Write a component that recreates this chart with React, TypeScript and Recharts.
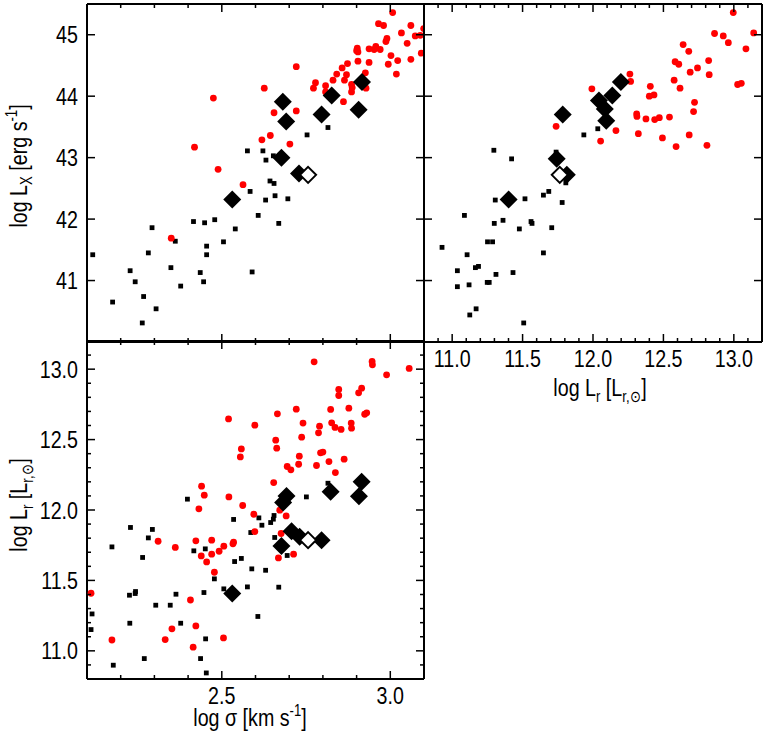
import React from "react";
import { ScatterChart, Scatter, XAxis, YAxis } from "recharts";

const FONT = "'Liberation Sans', Arial, sans-serif";
const NARROW = 0.82; // squeeze the sans face to a condensed look
const RED = "#ff0000";

// axis ticks
const sigmaTicks = [2.1, 2.2, 2.3, 2.4, 2.5, 2.6, 2.7, 2.8, 2.9, 3.0, 3.1];
const sigmaMajor = [2.5, 3.0];
const lxTicks = [41, 42, 43, 44, 45];
const lrTicks = [
  10.8, 10.9, 11.0, 11.1, 11.2, 11.3, 11.4, 11.5, 11.6, 11.7, 11.8, 11.9, 12.0,
  12.1, 12.2, 12.3, 12.4, 12.5, 12.6, 12.7, 12.8, 12.9, 13.0, 13.1, 13.2,
];
const lrMajor = [11.0, 11.5, 12.0, 12.5, 13.0];

// log sigma vs log L_X
const sigLxSquares = [
  [2.117, 41.42], [2.176, 40.65], [2.228, 41.16], [2.243, 40.98], [2.268, 40.74], [2.264, 40.31],
  [2.282, 41.45], [2.293, 41.86], [2.305, 40.54], [2.349, 41.21], [2.362, 41.64], [2.378, 40.91],
  [2.416, 41.96], [2.436, 41.13], [2.446, 40.98], [2.449, 41.94], [2.455, 41.56], [2.455, 41.42],
  [2.479, 41.99], [2.505, 41.63], [2.54, 41.84], [2.576, 43.11], [2.584, 42.45], [2.59, 41.14],
  [2.608, 42.06], [2.622, 43.11], [2.631, 42.96], [2.63, 42.31], [2.643, 42.62], [2.655, 42.58],
  [2.658, 42.38], [2.653, 43.03], [2.669, 41.93], [2.696, 42.33], [2.753, 43.37], [2.815, 43.49],
];
const sigLxCircles = [
  [2.35, 41.69], [2.419, 43.17], [2.475, 43.97], [2.489, 42.81], [2.563, 42.56], [2.619, 43.29],
  [2.626, 44.13], [2.644, 43.36], [2.655, 43.73], [2.702, 43.22], [2.721, 44.48], [2.721, 43.76],
  [2.772, 44.13], [2.778, 44.22], [2.808, 44.17], [2.808, 44.07], [2.83, 44.26], [2.841, 44.36],
  [2.857, 44.46], [2.864, 44.26], [2.87, 44.35], [2.873, 44.53], [2.861, 43.91], [2.885, 44.19],
  [2.885, 44.07], [2.887, 44.14], [2.9, 44.74], [2.902, 44.78], [2.904, 44.57], [2.904, 44.72],
  [2.926, 44.38], [2.928, 44.13], [2.937, 44.55], [2.937, 44.77], [2.952, 44.76], [2.957, 44.81],
  [2.97, 44.76], [2.965, 45.18], [2.98, 45.15], [2.987, 44.89], [2.99, 44.94], [2.994, 44.52],
  [3.002, 44.66], [3.007, 45.36], [3.018, 44.36], [3.022, 44.58], [3.033, 45.03], [3.05, 44.86],
  [3.061, 45.15], [3.061, 44.6], [3.074, 44.98], [3.089, 44.99], [3.092, 44.7], [3.099, 45.1],
];
const sigLxDiamonds = [
  [2.531, 42.32], [2.681, 43.91], [2.691, 43.59], [2.677, 43.0], [2.729, 42.74],
  [2.796, 43.7], [2.826, 44.01], [2.906, 43.78], [2.916, 44.23],
];
const sigLxOpen = [[2.756, 42.72]];

// log L_r vs log L_X
const lrLxSquares = [
  [10.928, 41.54], [11.037, 41.16], [11.037, 40.9], [11.087, 42.06], [11.106, 41.42], [11.12, 40.93],
  [11.125, 40.44], [11.165, 41.21], [11.187, 41.23], [11.17, 40.54], [11.251, 41.63], [11.287, 41.63],
  [11.249, 40.97], [11.263, 40.97], [11.299, 41.93], [11.306, 42.31], [11.296, 43.12], [11.311, 41.1],
  [11.361, 41.98], [11.422, 42.98], [11.432, 41.13], [11.477, 41.84], [11.508, 40.31], [11.517, 42.33],
  [11.56, 41.96], [11.567, 41.93], [11.648, 41.45], [11.648, 42.39], [11.686, 42.45], [11.707, 41.86],
  [11.781, 42.27], [11.807, 42.59], [11.738, 43.09], [11.935, 43.37], [12.034, 43.47],
];
const lrLxCircles = [
  [11.738, 43.51], [11.992, 44.12], [12.054, 43.27], [12.163, 43.44], [12.262, 44.36], [12.267, 44.24],
  [12.31, 43.71], [12.312, 43.67], [12.322, 43.39], [12.376, 43.63], [12.407, 44.16], [12.4, 44.0],
  [12.433, 44.02], [12.438, 43.62], [12.471, 43.65], [12.493, 43.32], [12.543, 43.66], [12.576, 44.26],
  [12.59, 43.18], [12.583, 44.56], [12.609, 44.52], [12.618, 44.13], [12.64, 44.84], [12.68, 44.73],
  [12.683, 43.37], [12.69, 44.39], [12.714, 43.75], [12.721, 43.9], [12.742, 44.46], [12.809, 43.2],
  [12.821, 44.58], [12.825, 44.35], [12.863, 45.02], [12.925, 44.98], [12.961, 44.87], [12.996, 45.36],
  [13.027, 44.19], [13.053, 44.21], [13.086, 44.77], [13.141, 45.03],
];
const lrLxDiamonds = [
  [11.401, 42.32], [11.785, 43.7], [11.742, 42.98], [11.814, 42.72], [12.042, 43.93],
  [12.084, 43.79], [12.094, 43.6], [12.137, 44.01], [12.198, 44.23],
];
const lrLxOpen = [[11.764, 42.72]];

// log sigma vs log L_r
const sigLrSquares = [
  [2.115, 11.262], [2.112, 11.151], [2.174, 11.738], [2.178, 10.898], [2.226, 11.395], [2.227, 11.196],
  [2.229, 11.876], [2.243, 11.407], [2.244, 11.421], [2.265, 11.663], [2.27, 10.945], [2.282, 11.802],
  [2.294, 11.862], [2.304, 11.324], [2.347, 11.324], [2.364, 11.402], [2.378, 11.196], [2.398, 12.077],
  [2.417, 11.71], [2.451, 11.724], [2.437, 10.945], [2.447, 11.414], [2.452, 11.085], [2.454, 10.843],
  [2.478, 11.511], [2.506, 11.44], [2.535, 11.933], [2.538, 11.634], [2.558, 11.656], [2.576, 11.454],
  [2.586, 11.84], [2.589, 11.582], [2.607, 11.244], [2.61, 11.944], [2.619, 11.892], [2.645, 11.911],
  [2.653, 11.935], [2.655, 11.961], [2.657, 11.805], [2.63, 11.572], [2.669, 11.452], [2.694, 11.677],
  [2.751, 12.093], [2.815, 12.19],
];
const sigLrCircles = [
  [2.112, 11.409], [2.174, 11.077], [2.311, 11.778], [2.332, 11.08], [2.352, 11.156], [2.362, 11.734],
  [2.407, 11.361], [2.415, 11.026], [2.423, 11.177], [2.423, 11.781], [2.432, 12.008], [2.439, 11.674],
  [2.44, 12.169], [2.448, 12.105], [2.455, 11.631], [2.47, 11.786], [2.47, 11.686], [2.478, 11.558],
  [2.492, 11.707], [2.505, 11.092], [2.506, 11.743], [2.52, 12.647], [2.521, 12.093], [2.533, 11.76],
  [2.535, 11.771], [2.555, 12.377], [2.558, 12.434], [2.562, 12.032], [2.595, 11.97], [2.598, 12.602],
  [2.598, 11.847], [2.654, 12.195], [2.66, 12.496], [2.663, 12.439], [2.665, 12.683], [2.672, 11.999],
  [2.676, 11.833], [2.668, 11.66], [2.691, 11.958], [2.694, 12.309], [2.705, 12.285], [2.713, 11.686],
  [2.721, 12.716], [2.728, 12.325], [2.73, 12.382], [2.737, 12.517], [2.741, 12.617], [2.774, 13.052],
  [2.781, 12.316], [2.787, 12.548], [2.79, 12.595], [2.793, 12.406], [2.8, 12.411], [2.818, 12.344],
  [2.823, 12.714], [2.826, 12.619], [2.836, 12.586], [2.837, 12.266], [2.847, 12.856], [2.847, 12.813],
  [2.854, 12.572], [2.863, 12.361], [2.877, 12.723], [2.884, 12.617], [2.885, 12.581], [2.906, 12.832],
  [2.915, 12.865], [2.924, 12.68], [2.93, 12.69], [2.946, 13.055], [2.947, 13.031], [2.989, 12.96],
  [3.056, 13.005],
];
const sigLrDiamonds = [
  [2.531, 11.407], [2.692, 12.1], [2.682, 12.053], [2.677, 11.745], [2.707, 11.85],
  [2.731, 11.81], [2.796, 11.786], [2.823, 12.129], [2.907, 12.098], [2.915, 12.2],
];
const sigLrOpen = [[2.756, 11.786]];

type Pt = { x: number; y: number };
const pts = (a: number[][]): Pt[] => a.map(([x, y]) => ({ x, y }));

const Square = (p: any) => <rect x={p.cx - 2.4} y={p.cy - 2.4} width={4.8} height={4.8} fill="#000" />;
const Dot = (p: any) => <circle cx={p.cx} cy={p.cy} r={3.4} fill={RED} />;
const Diamond = (p: any) => (
  <polygon points={`${p.cx},${p.cy - 9} ${p.cx + 9},${p.cy} ${p.cx},${p.cy + 9} ${p.cx - 9},${p.cy}`} fill="#000" />
);
const OpenDiamond = (p: any) => (
  <polygon
    points={`${p.cx},${p.cy - 8} ${p.cx + 8},${p.cy} ${p.cx},${p.cy + 8} ${p.cx - 8},${p.cy}`}
    fill="#fff"
    stroke="#000"
    strokeWidth={2}
  />
);

// condensed text: the glyphs are squeezed along the reading direction
const NText = ({ x, y, rotate = 0, anchor = "middle", size = 24, children }: any) => (
  <text
    transform={`translate(${x},${y}) rotate(${rotate}) scale(${NARROW},1)`}
    textAnchor={anchor}
    fontSize={size}
    fontFamily={FONT}
    fill="#000"
  >
    {children}
  </text>
);

type Side = "top" | "bottom" | "left" | "right";

const makeTick = (side: Side, majors: number[], labelled: boolean, digits: number) => (props: any) => {
  const { x, y, payload } = props;
  const v = payload.value as number;
  const major = majors.some((m) => Math.abs(m - v) < 1e-6);
  const len = major ? 8 : 4;
  let x2 = x;
  let y2 = y;
  if (side === "bottom") y2 = y - len;
  if (side === "top") y2 = y + len;
  if (side === "left") x2 = x + len;
  if (side === "right") x2 = x - len;
  let label = null;
  if (labelled && major) {
    label =
      side === "left" ? (
        <NText x={x - 9} y={y + 8.5} anchor="end">{v.toFixed(digits)}</NText>
      ) : (
        <NText x={x} y={y + 25}>{v.toFixed(digits)}</NText>
      );
  }
  return (
    <g>
      <line x1={x} y1={y} x2={x2} y2={y2} stroke="#000" strokeWidth={1.5} />
      {label}
    </g>
  );
};

interface PanelProps {
  box: [number, number, number, number]; // left, top, right, bottom
  xDomain: [number, number];
  yDomain: [number, number];
  xTicks: number[];
  yTicks: number[];
  xMajor: number[];
  yMajor: number[];
  xDigits: number;
  yDigits: number;
  xLabels: boolean;
  yLabels: boolean;
  squares: number[][];
  circles: number[][];
  diamonds: number[][];
  open: number[][];
  children?: React.ReactNode;
}

const axisLine = { stroke: "#000", strokeWidth: 2 };

const Panel = (p: PanelProps) => {
  const [l, t, r, b] = p.box;
  // axes are 1px thick boxes, so margins leave 1px for each
  return (
    <div style={{ position: "absolute", left: 0, top: 0 }}>
      <ScatterChart width={766} height={738} margin={{ top: t - 1, left: l - 1, right: 766 - r - 1, bottom: 738 - b - 1 }}>
        <XAxis xAxisId="b" type="number" dataKey="x" orientation="bottom" domain={p.xDomain} ticks={p.xTicks}
          interval={0} height={1} tickSize={0} tickMargin={0} allowDataOverflow axisLine={axisLine}
          tick={makeTick("bottom", p.xMajor, p.xLabels, p.xDigits)} />
        <XAxis xAxisId="t" type="number" dataKey="x" orientation="top" domain={p.xDomain} ticks={p.xTicks}
          interval={0} height={1} tickSize={0} tickMargin={0} allowDataOverflow axisLine={axisLine}
          tick={makeTick("top", p.xMajor, false, p.xDigits)} />
        <YAxis yAxisId="l" type="number" dataKey="y" orientation="left" domain={p.yDomain} ticks={p.yTicks}
          interval={0} width={1} tickSize={0} tickMargin={0} allowDataOverflow axisLine={axisLine}
          tick={makeTick("left", p.yMajor, p.yLabels, p.yDigits)} />
        <YAxis yAxisId="r" type="number" dataKey="y" orientation="right" domain={p.yDomain} ticks={p.yTicks}
          interval={0} width={1} tickSize={0} tickMargin={0} allowDataOverflow axisLine={axisLine}
          tick={makeTick("right", p.yMajor, false, p.yDigits)} />
        <Scatter xAxisId="b" yAxisId="l" data={pts(p.squares)} shape={Square} isAnimationActive={false} />
        <Scatter xAxisId="b" yAxisId="l" data={pts(p.circles)} shape={Dot} isAnimationActive={false} />
        <Scatter xAxisId="b" yAxisId="l" data={pts(p.diamonds)} shape={Diamond} isAnimationActive={false} />
        <Scatter xAxisId="b" yAxisId="l" data={pts(p.open)} shape={OpenDiamond} isAnimationActive={false} />
        {p.children}
      </ScatterChart>
    </div>
  );
};

const SUB = 16;

export default function App() {
  return (
    <div style={{ position: "absolute", left: 0, top: 0, width: 766, height: 738, background: "#fff" }}>
      <Panel box={[87, 4, 424, 342]} xDomain={[2.1, 3.1]} yDomain={[40, 45.5]}
        xTicks={sigmaTicks} yTicks={lxTicks} xMajor={sigmaMajor} yMajor={lxTicks} xDigits={1} yDigits={0}
        xLabels={false} yLabels={true}
        squares={sigLxSquares} circles={sigLxCircles} diamonds={sigLxDiamonds} open={sigLxOpen}>
        <NText x={27} y={166} rotate={-90}>
          log L<tspan fontSize={SUB} dy={5}>X</tspan><tspan dy={-5}> [erg s</tspan>
          <tspan fontSize={SUB} dy={-10}>-1</tspan><tspan dy={10}>]</tspan>
        </NText>
      </Panel>
      <Panel box={[424, 4, 762, 342]} xDomain={[10.8, 13.2]} yDomain={[40, 45.5]}
        xTicks={lrTicks} yTicks={lxTicks} xMajor={lrMajor} yMajor={lxTicks} xDigits={1} yDigits={0}
        xLabels={true} yLabels={false}
        squares={lrLxSquares} circles={lrLxCircles} diamonds={lrLxDiamonds} open={lrLxOpen}>
        <NText x={600} y={396}>
          log L<tspan fontSize={SUB} dy={6}>r</tspan><tspan dy={-6}> [L</tspan>
          <tspan fontSize={SUB} dy={6}>r,⊙</tspan><tspan dy={-6}>]</tspan>
        </NText>
      </Panel>
      <Panel box={[87, 341, 424, 679]} xDomain={[2.1, 3.1]} yDomain={[10.8, 13.2]}
        xTicks={sigmaTicks} yTicks={lrTicks} xMajor={sigmaMajor} yMajor={lrMajor} xDigits={1} yDigits={1}
        xLabels={true} yLabels={true}
        squares={sigLrSquares} circles={sigLrCircles} diamonds={sigLrDiamonds} open={sigLrOpen}>
        <NText x={27} y={505} rotate={-90}>
          log L<tspan fontSize={SUB} dy={6}>r</tspan><tspan dy={-6}> [L</tspan>
          <tspan fontSize={SUB} dy={6}>r,⊙</tspan><tspan dy={-6}>]</tspan>
        </NText>
        <NText x={250} y={726}>
          log σ [km s<tspan fontSize={SUB} dy={-10}>-1</tspan><tspan dy={10}>]</tspan>
        </NText>
      </Panel>
    </div>
  );
}
